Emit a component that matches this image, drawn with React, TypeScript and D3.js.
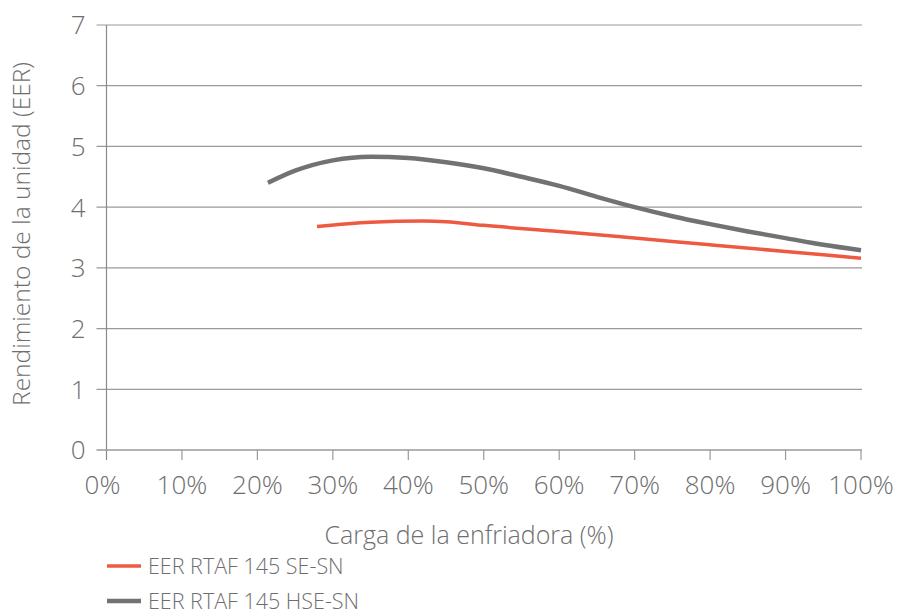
import { useEffect, useRef } from "react";
import * as d3 from "d3";

// EER vs chiller load (% of full load)
const seLoad = [27.9, 35, 42, 45, 50, 60, 70, 80, 90, 100];
const seEer = [3.68, 3.75, 3.77, 3.76, 3.7, 3.6, 3.49, 3.38, 3.27, 3.16];

const hseLoad = [21.4, 25, 30, 35, 40, 45, 50, 55, 60, 65, 70, 75, 80, 85, 90, 95, 100];
const hseEer = [4.4, 4.6, 4.77, 4.83, 4.81, 4.74, 4.64, 4.5, 4.35, 4.17, 4.0, 3.85, 3.72, 3.6, 3.49, 3.38, 3.29];

const xTicks = [0, 10, 20, 30, 40, 50, 60, 70, 80, 90, 100];
const yTicks = [0, 1, 2, 3, 4, 5, 6, 7];

const seriesNames = ["EER RTAF 145 SE-SN", "EER RTAF 145 HSE-SN"];
const seriesColors = ["#ee5a41", "#717274"];

const App = () => {
  const svgRef = useRef<SVGSVGElement>(null);

  useEffect(() => {
    const svg = d3.select(svgRef.current);
    svg.selectAll("*").remove();

    const left = 106.5;
    const right = 861;
    const top = 25;
    const bottom = 450;
    const font = "'Open Sans', sans-serif";
    const textColor = "#6e6e6e";

    const x = d3.scaleLinear().domain([0, 100]).range([left, right]);
    const y = d3.scaleLinear().domain([0, 7]).range([bottom, top]);

    // gridlines
    svg
      .append("g")
      .selectAll("line")
      .data(yTicks.filter((t) => t > 0))
      .join("line")
      .attr("x1", left - 10)
      .attr("x2", right + 1)
      .attr("y1", (d) => y(d))
      .attr("y2", (d) => y(d))
      .attr("stroke", "#9a9a9a")
      .attr("stroke-width", 1.2);

    // y axis
    svg
      .append("line")
      .attr("x1", left)
      .attr("x2", left)
      .attr("y1", top)
      .attr("y2", bottom + 10)
      .attr("stroke", "#8a8a8a")
      .attr("stroke-width", 1.2);

    // x axis
    svg
      .append("line")
      .attr("x1", left - 10)
      .attr("x2", right + 1)
      .attr("y1", bottom)
      .attr("y2", bottom)
      .attr("stroke", "#9a9a9a")
      .attr("stroke-width", 1.4);

    svg
      .append("g")
      .selectAll("line")
      .data(xTicks.filter((t) => t > 0))
      .join("line")
      .attr("x1", (d) => x(d))
      .attr("x2", (d) => x(d))
      .attr("y1", bottom)
      .attr("y2", bottom + 10)
      .attr("stroke", "#9a9a9a")
      .attr("stroke-width", 1.2);

    // tick labels
    svg
      .append("g")
      .selectAll("text")
      .data(yTicks)
      .join("text")
      .attr("x", left - 21)
      .attr("y", (d) => y(d))
      .attr("dy", "0.36em")
      .attr("text-anchor", "end")
      .attr("font-family", font)
      .attr("font-weight", 300)
      .attr("font-size", 26)
      .attr("fill", textColor)
      .text((d) => d);

    svg
      .append("g")
      .selectAll("text")
      .data(xTicks)
      .join("text")
      .attr("x", (d) => x(d) - (d === 0 ? 4 : 0))
      .attr("y", bottom + 44)
      .attr("text-anchor", "middle")
      .attr("font-family", font)
      .attr("font-weight", 300)
      .attr("font-size", 26)
      .attr("fill", textColor)
      .text((d) => `${d}%`);

    // axis titles
    svg
      .append("text")
      .attr("x", 469)
      .attr("y", 544)
      .attr("text-anchor", "middle")
      .attr("font-family", font)
      .attr("font-weight", 300)
      .attr("font-size", 25)
      .attr("fill", textColor)
      .text("Carga de la enfriadora (%)");

    svg
      .append("text")
      .attr("transform", "translate(30,234) rotate(-90)")
      .attr("text-anchor", "middle")
      .attr("font-family", font)
      .attr("font-weight", 300)
      .attr("font-size", 24.5)
      .attr("fill", textColor)
      .text("Rendimiento de la unidad (EER)");

    // lines
    const line = d3
      .line<[number, number]>()
      .x((d) => x(d[0]))
      .y((d) => y(d[1]))
      .curve(d3.curveMonotoneX);

    const series: [number, number][][] = [
      seLoad.map((l, i) => [l, seEer[i]]),
      hseLoad.map((l, i) => [l, hseEer[i]]),
    ];

    svg
      .append("path")
      .attr("d", line(series[1]))
      .attr("fill", "none")
      .attr("stroke", seriesColors[1])
      .attr("stroke-width", 4.5);

    svg
      .append("path")
      .attr("d", line(series[0]))
      .attr("fill", "none")
      .attr("stroke", seriesColors[0])
      .attr("stroke-width", 3.5);

    // legend
    const legend = svg
      .append("g")
      .selectAll("g")
      .data(seriesNames)
      .join("g")
      .attr("transform", (_, i) => `translate(107,${566 + i * 35})`);

    legend
      .append("line")
      .attr("x1", 0)
      .attr("x2", 34)
      .attr("stroke", (_, i) => seriesColors[i])
      .attr("stroke-width", (_, i) => (i === 0 ? 3.5 : 4.5));

    legend
      .append("text")
      .attr("x", 41)
      .attr("dy", "0.36em")
      .attr("font-family", font)
      .attr("font-weight", 300)
      .attr("font-size", 21.5)
      .attr("fill", textColor)
      .text((d) => d);
  }, []);

  return (
    <svg
      ref={svgRef}
      width={898}
      height={610}
      style={{ position: "absolute", left: 0, top: 0, background: "#fff" }}
    />
  );
};

export default App;
